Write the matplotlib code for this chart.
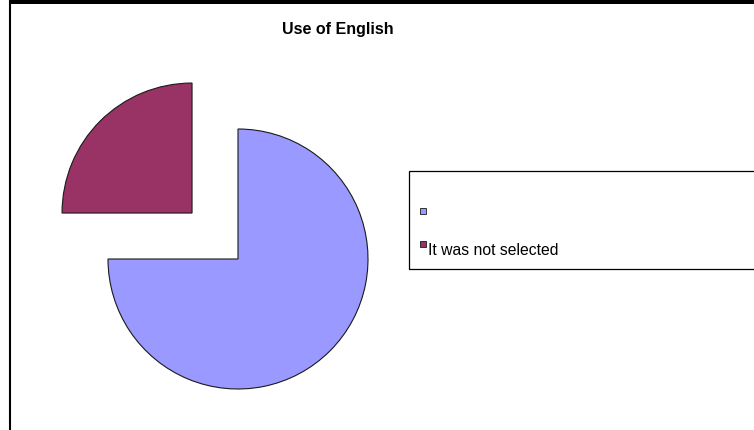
"""Recreate the 'Use of English' exploded pie chart."""

import matplotlib.pyplot as plt
from matplotlib.lines import Line2D
from matplotlib.patches import Rectangle

labels = ["", "It was not selected"]
values = [75, 25]
colors = ["#9999FF", "#993366"]
explode = [0, 0.5]

W, H = 754, 431


def main():
    plt.rcParams["font.family"] = ["Liberation Sans", "DejaVu Sans"]

    fig = plt.figure(figsize=(W / 100, H / 100), dpi=100)

    # pie axes: centre at pixel (238, 260 from top), radius 130 px
    cx, cy, r = 238, H - 260, 130
    left, right, bottom, top = 10, 400, 0, 411
    ax = fig.add_axes([left / W, bottom / H, (right - left) / W, (top - bottom) / H])
    ax.pie(
        values,
        colors=colors,
        explode=explode,
        startangle=180,
        counterclock=True,
        wedgeprops=dict(edgecolor="#1a1a1a", linewidth=0.8),
    )
    ax.set_xlim((left - cx) / r, (right - cx) / r)
    ax.set_ylim((bottom - cy) / r, (top - cy) / r)
    ax.set_axis_off()

    fig.text(338 / W, 1 - 34 / H, "Use of English", ha="center", va="baseline",
             fontsize=11.5, fontweight="bold")

    # chart border: black band on top, thin line on the left
    fig.patches.append(Rectangle((10 / W, 1 - 5 / H), 1, 5 / H, transform=fig.transFigure,
                                 facecolor="black", edgecolor="none"))
    fig.add_artist(Line2D([9.8 / W, 9.8 / W], [0, 1], transform=fig.transFigure,
                          color="black", linewidth=1.5))

    # legend box runs off the right edge
    fig.patches.append(Rectangle((409 / W, 1 - 270 / H), 400 / W, 98 / H,
                                 transform=fig.transFigure, facecolor="none",
                                 edgecolor="black", linewidth=0.9))
    handles = [
        Line2D([], [], linestyle="none", marker="s", markersize=3.8,
               markerfacecolor=c, markeredgecolor="#1a1a1a", markeredgewidth=0.6)
        for c in colors
    ]
    fig.legend(
        handles, labels, loc="upper left", bbox_to_anchor=(420 / W, 1 - 201 / H),
        frameon=False, fontsize=11.3, handlelength=0.4, handleheight=2.86,
        handletextpad=0.12, labelspacing=0.0, borderpad=0, borderaxespad=0,
    )

    fig.savefig("out.png", dpi=100)


if __name__ == "__main__":
    main()
